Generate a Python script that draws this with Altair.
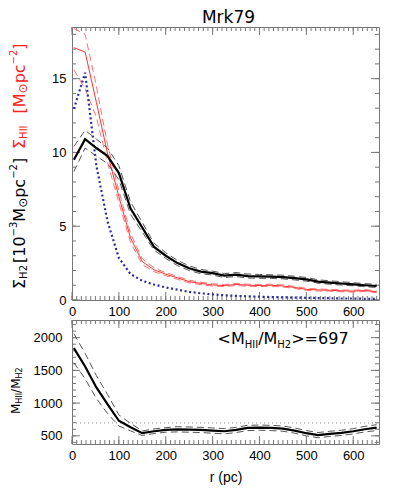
import altair as alt
import numpy as np
import pandas as pd

# ---------------- data ----------------
r_pc = [4, 28, 52, 76, 100, 125, 150, 175, 200, 225, 250, 275, 300, 325,
        350, 375, 400, 425, 450, 475, 500, 525, 550, 575, 600, 625, 650]

sigma_h2 = [9.5, 10.9, 10.3, 9.75, 8.6, 6.2, 4.9, 3.6, 3.0, 2.5, 2.15, 1.92, 1.82, 1.65,
            1.72, 1.62, 1.6, 1.58, 1.55, 1.48, 1.4, 1.25, 1.18, 1.12, 1.06, 1.0, 0.95]
sigma_h2_hi = [10.4, 11.5, 10.9, 10.3, 9.1, 6.65, 5.25, 3.85, 3.2, 2.68, 2.32, 2.07, 1.96, 1.79,
               1.86, 1.76, 1.73, 1.71, 1.68, 1.61, 1.53, 1.37, 1.3, 1.24, 1.17, 1.11, 1.06]
sigma_h2_lo = [8.7, 10.3, 9.75, 9.25, 8.15, 5.8, 4.6, 3.38, 2.82, 2.33, 2.0, 1.78, 1.69, 1.52,
               1.59, 1.49, 1.47, 1.46, 1.43, 1.36, 1.28, 1.14, 1.07, 1.01, 0.96, 0.9, 0.85]

sigma_hii = [17.1, 16.8, 13.4, 9.9, 7.0, 4.2, 2.6, 2.05, 1.75, 1.5, 1.25, 1.12, 1.02, 0.98,
             1.05, 1.0, 0.98, 1.0, 0.95, 0.85, 0.72, 0.68, 0.66, 0.62, 0.6, 0.64, 0.56]
sigma_hii_hi = [18.4, 18.0, 14.5, 10.5, 7.4, 4.5, 2.8, 2.18, 1.85, 1.6, 1.34, 1.2, 1.1, 1.05,
                1.12, 1.07, 1.05, 1.07, 1.02, 0.92, 0.79, 0.75, 0.72, 0.68, 0.66, 0.7, 0.62]
sigma_hii_lo = [15.6, 14.3, 12.4, 9.3, 6.6, 3.9, 2.4, 1.92, 1.65, 1.4, 1.16, 1.04, 0.94, 0.91,
                0.98, 0.93, 0.91, 0.93, 0.88, 0.78, 0.65, 0.61, 0.6, 0.56, 0.54, 0.58, 0.5]

sigma_blue = [12.95, 15.4, 9.1, 5.3, 2.85, 1.75, 1.3, 1.05, 0.85, 0.7, 0.55, 0.45, 0.38, 0.32,
              0.28, 0.25, 0.22, 0.2, 0.18, 0.16, 0.15, 0.13, 0.12, 0.1, 0.1, 0.08, 0.08]

ratio = [1840, 1560, 1240, 980, 730, 630, 540, 570, 590, 600, 595, 590, 580, 570,
         590, 620, 625, 620, 610, 580, 540, 510, 530, 545, 570, 600, 625]
ratio_hi = [2060, 1760, 1420, 1130, 820, 690, 575, 605, 625, 640, 635, 630, 620, 610,
            630, 660, 665, 660, 650, 620, 580, 550, 570, 585, 610, 645, 670]
ratio_lo = [1620, 1370, 1070, 840, 650, 575, 505, 535, 555, 560, 555, 550, 540, 530,
            550, 580, 585, 580, 570, 540, 500, 470, 490, 505, 530, 560, 580]

mean_ratio = 697

x_labels = [0, 100, 200, 300, 400, 500, 600]
y1_labels = [0, 5, 10, 15]
y2_labels = [500, 1000, 1500, 2000]

# ---------------- styling ----------------
FONT = "Liberation Sans"
FONT2 = "DejaVu Sans"
FRAME = "#777777"
W, H1, H2 = 307, 273, 124

df = pd.DataFrame({
    "r": r_pc, "h2": sigma_h2, "h2_hi": sigma_h2_hi, "h2_lo": sigma_h2_lo,
    "hii": sigma_hii, "hii_hi": sigma_hii_hi, "hii_lo": sigma_hii_lo,
    "blue": sigma_blue, "ratio": ratio, "ratio_hi": ratio_hi, "ratio_lo": ratio_lo,
})
one = pd.DataFrame({"a": [0]})

xs = alt.Scale(domain=[0, 655], nice=False, zero=False)
ys1 = alt.Scale(domain=[0, 18.5], nice=False, zero=False)
ys2 = alt.Scale(domain=[375, 2270], nice=False, zero=False)

common = dict(tickSize=0, domain=False, grid=False, labelFont=FONT, labelFontSize=13,
              labelColor="black", labelFlush=False, labelOverlap=False, format="d")
ax_x1 = alt.Axis(values=x_labels, labelPadding=5, title=None, **common)
ax_x2 = alt.Axis(values=x_labels, labelPadding=5, title="r (pc)", titleFont=FONT,
                 titleFontSize=14, titleFontWeight="normal", titleColor="black",
                 titlePadding=8, **common)
ax_y1 = alt.Axis(values=y1_labels, labelPadding=6, title=None, **common)
ax_y2 = alt.Axis(values=y2_labels, labelPadding=10, title=None, **common)

# DejaVu Sans advance widths (em)
WID = {c: 0.636 for c in "0123456789"}
WID.update({"M": .863, "H": .752, "I": .295, "p": .635, "c": .55, "[": .39, "]": .39,
            "/": .337, "\u2212": .838, "\u03a3": .632, "\u2299": .838,
            "<": .838, ">": .838, "=": .838})


def tw(s, fs):
    return sum(WID.get(ch, 0.6) for ch in s) * fs


def rot_text(pieces, xb, y0, color):
    # pieces: (text, font size, baseline shift, gap before)
    out, y = [], y0
    for text, fs, dx, gap in pieces:
        y -= gap
        out.append(alt.Chart(one).mark_text(
            text=text, angle=270, align="left", baseline="alphabetic",
            font=FONT2, fontSize=fs, color=color
        ).encode(x=alt.value(xb + dx), y=alt.value(y)))
        y -= tw(text, fs)
    return out


def hor_text(pieces, x0, yb, color):
    out, x = [], x0
    for text, fs, dy in pieces:
        out.append(alt.Chart(one).mark_text(
            text=text, align="left", baseline="alphabetic",
            font=FONT2, fontSize=fs, color=color
        ).encode(x=alt.value(x), y=alt.value(yb + dy)))
        x += tw(text, fs)
    return out


def tick_layers(xax, ysc, yax, H, ymaj, ymin):
    out = []
    for vals, ln in [(list(range(0, 651, 10)), 4), (x_labels, 8)]:
        d = pd.DataFrame({"t": vals})
        out.append(alt.Chart(d).mark_rule(color=FRAME, strokeWidth=1).encode(
            x=alt.X("t:Q", scale=xs, axis=xax), y=alt.value(H), y2=alt.value(H - ln)))
        out.append(alt.Chart(d).mark_rule(color=FRAME, strokeWidth=1).encode(
            x=alt.X("t:Q", scale=xs, axis=xax), y=alt.value(0), y2=alt.value(ln)))
    for vals, ln in [(ymin, 4), (ymaj, 8)]:
        d = pd.DataFrame({"t": vals})
        out.append(alt.Chart(d).mark_rule(color=FRAME, strokeWidth=1).encode(
            y=alt.Y("t:Q", scale=ysc, axis=yax), x=alt.value(0), x2=alt.value(ln)))
        out.append(alt.Chart(d).mark_rule(color=FRAME, strokeWidth=1).encode(
            y=alt.Y("t:Q", scale=ysc, axis=yax), x=alt.value(W), x2=alt.value(W - ln)))
    return out


def line(field, ysc, yax, xax, **mk):
    return alt.Chart(df).mark_line(**mk).encode(
        x=alt.X("r:Q", scale=xs, axis=xax), y=alt.Y(field + ":Q", scale=ysc, axis=yax))


# ---------------- top panel ----------------
top_layers = tick_layers(ax_x1, ys1, ax_y1, H1, y1_labels, list(range(0, 19)))
top_layers += [
    line("hii_hi", ys1, ax_y1, ax_x1, color="#ff7070", strokeWidth=1, strokeDash=[7, 4]),
    line("hii_lo", ys1, ax_y1, ax_x1, color="#ff7070", strokeWidth=1, strokeDash=[7, 4]),
    line("hii", ys1, ax_y1, ax_x1, color="#ff3030", strokeWidth=1),
    line("blue", ys1, ax_y1, ax_x1, color="#2c2ca0", strokeWidth=2.2, strokeDash=[2, 2.6]),
    line("h2_hi", ys1, ax_y1, ax_x1, color="#555555", strokeWidth=1, strokeDash=[7, 4]),
    line("h2_lo", ys1, ax_y1, ax_x1, color="#555555", strokeWidth=1, strokeDash=[7, 4]),
    line("h2", ys1, ax_y1, ax_x1, color="black", strokeWidth=2.2),
]
top_layers.append(alt.Chart(one).mark_text(
    text="Mrk79", align="center", baseline="top", font=FONT2, fontSize=17,
    color="black").encode(x=alt.value(W / 2 + 3), y=alt.value(-17)))
top_layers += rot_text([("\u03a3", 16, 0, 0), ("H2", 10, 2, 0), ("[10", 16, 0, 2),
                        ("\u22123", 10, -8, 0), ("M", 16, 0, 0), ("\u2299", 12, 2, 0),
                        ("pc", 16, 0, 0), ("\u22122", 10, -8, 0), ("]", 16, 0, 0)],
                       -47.5, 262, "black")
top_layers += rot_text([("\u03a3", 16, 0, 0), ("HII", 10, 2, 0), ("[", 16, 0, 12),
                        ("M", 16, 0, 0), ("\u2299", 12, 2, 0), ("pc", 16, 0, 0),
                        ("\u22122", 10, -8, 0), ("]", 16, 0, 0)],
                       -47.5, 122, "#ff2020")
top = alt.layer(*top_layers).properties(width=W, height=H1)

# ---------------- bottom panel ----------------
bot_layers = tick_layers(ax_x2, ys2, ax_y2, H2, y2_labels, list(range(400, 2201, 100)))
bot_layers.append(alt.Chart(pd.DataFrame({"m": [mean_ratio]})).mark_rule(
    color="#888888", strokeWidth=1, strokeDash=[1, 3]).encode(
    y=alt.Y("m:Q", scale=ys2, axis=ax_y2), x=alt.value(0), x2=alt.value(W)))
bot_layers += [
    line("ratio_hi", ys2, ax_y2, ax_x2, color="#555555", strokeWidth=1, strokeDash=[7, 4]),
    line("ratio_lo", ys2, ax_y2, ax_x2, color="#555555", strokeWidth=1, strokeDash=[7, 4]),
    line("ratio", ys2, ax_y2, ax_x2, color="black", strokeWidth=2.2),
]
bot_layers += hor_text([("<M", 16, 0), ("HII", 10, 4), ("/M", 16, 0), ("H2", 10, 4),
                        (">=" + str(mean_ratio), 16, 0)], 145.5, 24, "black")
bot_layers += rot_text([("M", 12, 0, 0), ("HII", 8, 2, 0), ("/M", 12, 0, 0), ("H2", 8, 2, 0)],
                       -52, 94, "black")
bottom = alt.layer(*bot_layers).properties(width=W, height=H2)

chart = alt.vconcat(top, bottom, spacing=0).properties(
    padding=0, background="white"
).configure_view(stroke=FRAME, strokeWidth=1)

chart.save("out.html", embed_options={"renderer": "svg", "actions": False})
